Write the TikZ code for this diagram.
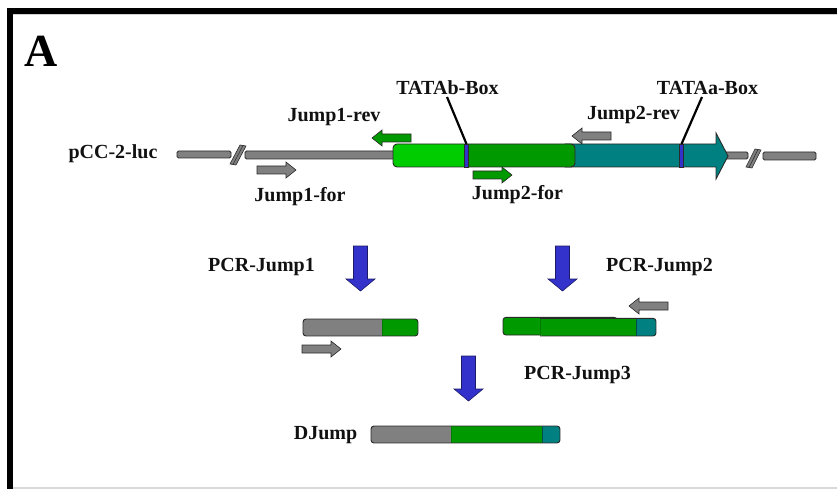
\documentclass[tikz,border=0pt]{standalone}
\usepackage{fontspec}
\setmainfont{Liberation Serif}
\begin{document}
\begin{tikzpicture}[x=1pt,y=-1pt,
  lbl/.style={inner sep=0pt,anchor=base,text=txt,font=\fontsize{20}{24}\bfseries},
  bar/.style={fill=pgray,draw=outl,line width=0.8pt,rounded corners=1.5pt},
  seg/.style={draw=outl,line width=0.9pt},
  tatamark/.style={fill=tblue,draw=outl,line width=0.6pt},
  primer/.style={draw=outl,line width=0.6pt},
  pcrarrow/.style={fill=tblue,draw=arrowout,line width=0.6pt},
  brk/.style={fill=pgray,draw=outl,line width=0.6pt},
  tataline/.style={draw=black,line width=2.2pt},
  pics/primer right/.style={code={
    \draw[primer,fill=#1] (-19.5,-4) -- (9.5,-4) -- (9.5,-8) -- (19.5,0)
      -- (9.5,8) -- (9.5,4) -- (-19.5,4) -- cycle;}},
  pics/primer left/.style={code={
    \draw[primer,fill=#1] (19.5,-4) -- (-9.5,-4) -- (-9.5,-8) -- (-19.5,0)
      -- (-9.5,8) -- (-9.5,4) -- (19.5,4) -- cycle;}},
  pics/pcr down/.style={code={
    \draw[pcrarrow] (-7,0) -- (7,0) -- (7,33) -- (14.5,33) -- (0,45)
      -- (-14.5,33) -- (-7,33) -- cycle;}},
]
\definecolor{pgray}{HTML}{808080}
\definecolor{outl}{HTML}{2A2A2A}
\definecolor{lgreen}{HTML}{00CC00}
\definecolor{dgreen}{HTML}{009900}
\definecolor{seam}{HTML}{007A00}
\definecolor{teal}{HTML}{008080}
\definecolor{tblue}{HTML}{3333CC}
\definecolor{arrowout}{HTML}{1A1A66}
\definecolor{txt}{HTML}{111111}

\useasboundingbox (0,0) rectangle (837,489);

% frame
\draw[gray!35,line width=1pt] (13,14.8) -- (837,14.8);
\draw[gray!30,line width=1.5pt] (13,488) -- (837,488);
\draw[black,line width=6pt,line join=miter] (10,489) -- (10,11) -- (837,11);

% panel letter
\node[inner sep=0pt,anchor=base,text=black,font=\fontsize{46}{50}\bfseries] (panel) at (41,67) {A};

% ---------- pCC-2-luc construct ----------
\node[lbl] (pcc) at (113,159) {pCC-2-luc};
\draw[bar] (177,151) rectangle (231,158);
\draw[brk] (230,164) -- (240,145) -- (246,146) -- (236,165) -- cycle;
\draw[outl,line width=0.5pt] (233,164.5) -- (243,145.5);
\draw[bar] (245,151) rectangle (400,159);

% right flank
\draw[bar] (724,152) rectangle (748,159);
\draw[brk] (746,167) -- (755,149) -- (761,150) -- (752,168) -- cycle;
\draw[outl,line width=0.5pt] (749,167.5) -- (758,149.5);
\draw[bar] (763,152) rectangle (816,160);

% luciferase region (teal arrow)
\draw[seg,fill=teal] (565,144) -- (716,144) -- (716,133) -- (728,156)
  -- (716,179) -- (716,167) -- (565,167) -- cycle;
% promoter regions
\draw[seg,fill=dgreen,rounded corners=4pt] (462,144) rectangle (575,167);
\draw[seg,fill=lgreen,rounded corners=4pt] (393,144) rectangle (468,167);
% TATA boxes
\draw[tatamark] (464,144) rectangle (468,167);
\coordinate (tatab) at (466.5,144);
\draw[tatamark] (679,144) rectangle (683,167);
\coordinate (tataa) at (681.5,144);

\node[lbl] (tatablbl) at (447.5,95) {TATAb-Box};
\node[lbl] (tataalbl) at (707.5,95) {TATAa-Box};
\draw[tataline] (447,97) -- (tatab);
\draw[tataline] (702,97) -- (tataa);

% primers on the construct
\pic at (391.5,138) {primer left=dgreen};
\node[lbl] (j1rev) at (334,122) {Jump1-rev};
\pic at (276.5,170) {primer right=pgray};
\node[lbl] (j1for) at (300,201) {Jump1-for};
\pic at (591.5,136) {primer left=pgray};
\node[lbl] (j2rev) at (633.5,120) {Jump2-rev};
\pic at (492.5,175) {primer right=dgreen};
\node[lbl] (j2for) at (517.5,199.5) {Jump2-for};

% ---------- PCR steps ----------
\pic at (360.5,246) {pcr down};
\node[lbl] (pcr1) at (261.5,271) {PCR-Jump1};
\pic at (562.5,246) {pcr down};
\node[lbl] (pcr2) at (659.5,271) {PCR-Jump2};

% product of PCR-Jump1
\begin{scope}
  \clip[rounded corners=3pt] (303,319) rectangle (418,336);
  \fill[pgray] (303,319) rectangle (382,336);
  \fill[dgreen] (382,319) rectangle (418,336);
\end{scope}
\draw[seam,line width=0.8pt] (382,319.5) -- (382,335.5);
\draw[seg,rounded corners=3pt] (303,319) rectangle (418,336);
\pic at (321.5,349) {primer right=pgray};

% product of PCR-Jump2
\draw[seg,fill=dgreen,rounded corners=3pt] (503,317.3) rectangle (617,335);
\begin{scope}
  \clip[rounded corners=3pt] (540,318.3) rectangle (656,336);
  \fill[dgreen] (540,318.3) rectangle (636,336);
  \fill[teal] (636,318.3) rectangle (656,336);
\end{scope}
\draw[seg,rounded corners=3pt] (540,318.3) -- (656,318.3) -- (656,336) -- (540,336);
\draw[seam,line width=0.8pt] (540,318.8) -- (540,335.5);
\draw[teal!60!black,line width=0.6pt] (636,319) -- (636,335.5);
\pic at (648.5,306) {primer left=pgray};

% joined product
\pic at (468.5,356) {pcr down};
\node[lbl] (pcr3) at (577.5,379) {PCR-Jump3};

\node[lbl] (djump) at (325.5,439) {DJump};
\begin{scope}
  \clip[rounded corners=3pt] (371,426) rectangle (560,443);
  \fill[pgray] (371,426) rectangle (451,443);
  \fill[dgreen] (451,426) rectangle (542,443);
  \fill[teal] (542,426) rectangle (560,443);
\end{scope}
\draw[seam,line width=0.8pt] (451,426.5) -- (451,442.5);
\draw[teal!60!black,line width=0.6pt] (542,426.5) -- (542,442.5);
\draw[seg,rounded corners=3pt] (371,426) rectangle (560,443);
\end{tikzpicture}
\end{document}
